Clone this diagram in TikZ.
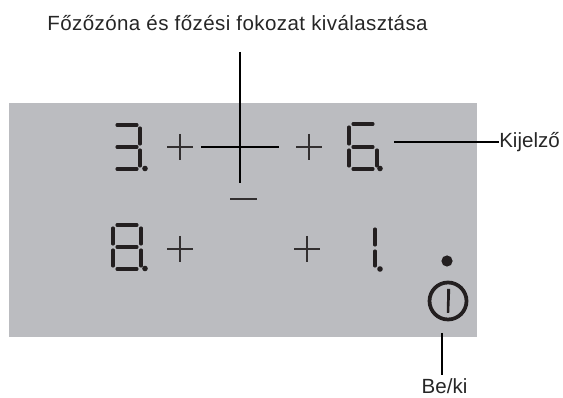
\documentclass[tikz,border=0pt]{standalone}
\usepackage{fontspec}
\setmainfont{Liberation Sans}
\definecolor{panel}{RGB}{187,188,192}
\definecolor{seg}{RGB}{35,31,32}
\tikzset{
  x=0.75pt,y=-0.75pt,
  segm/.style={line width=2.35pt,color=seg,line cap=round},
  keysym/.style={line width=2.2pt,color=seg!90!panel},
  leader/.style={line width=2.2pt,color=black},
  lab/.style={font=\fontsize{15.4pt}{17pt}\selectfont,inner sep=0pt,text=black!85},
  dotmark/.style={fill=seg,draw=none},
}
\newcommand{\plusat}[2]{\draw[keysym] (#1-13,#2) -- (#1+13,#2) (#1,#2-13) -- (#1,#2+13);}
\begin{document}
\begin{tikzpicture}
\useasboundingbox (0,0) rectangle (563,398);
\fill[panel] (9,103) rectangle (477,337);
% digit 3
\draw[segm] (117,125) -- (137,125) (117,147) -- (137,147) (117,169) -- (137,169)
  (140,128) -- (140,144) (140,150) -- (140,166);
\fill[dotmark] (145,168.5) circle (2.8);
% digit 6
\draw[segm] (353,124) -- (373,124) (353,147) -- (373,147) (353,169) -- (373,169)
  (349,127) -- (349,144) (349,150) -- (349,166) (377,150) -- (377,166);
\fill[dotmark] (380,168.5) circle (2.8);
% digit 8
\draw[segm] (117,225) -- (137,225) (117,247) -- (137,247) (117,269) -- (137,269)
  (113,228) -- (113,244) (113,250) -- (113,266) (141,228) -- (141,244) (141,250) -- (141,266);
\fill[dotmark] (145,268.5) circle (2.8);
% digit 1
\draw[segm] (375,229) -- (375,245) (375,251) -- (375,266);
\fill[dotmark] (380,269) circle (2.8);
% keys
\plusat{180}{147}
\plusat{309}{147}
\plusat{180}{249}
\plusat{307}{249}
\draw[keysym] (230,199) -- (257,199);
% on/off
\fill[dotmark] (447,261) circle (5.6);
\draw[seg,line width=2.8pt] (448,301) circle (18.5);
\fill[seg] (447.2,289) -- (450.2,289) -- (449.2,313) -- (446.8,313) -- cycle;
% labels and leaders
\node[lab] (top) at (237.5,23) {\addfontfeature{LetterSpace=2}Főzőzóna és főzési fokozat kiválasztása};
\node[lab,anchor=west] (kij) at (499,142) {Kijelző};
\node[lab] (beki) at (444.5,386) {Be/ki};
\coordinate (c1) at (240,52);
\coordinate (c2) at (240,183);
\coordinate (h1) at (201,147);
\coordinate (h2) at (279,147);
\coordinate (k1) at (394,142);
\coordinate (b1) at (442,333);
\coordinate (b2) at (442,375);
\draw[leader] (c1) -- (c2);
\draw[leader] (h1) -- (h2);
\draw[leader] (k1) -- (kij.west);
\draw[leader] (b1) -- (b2);
\end{tikzpicture}
\end{document}
